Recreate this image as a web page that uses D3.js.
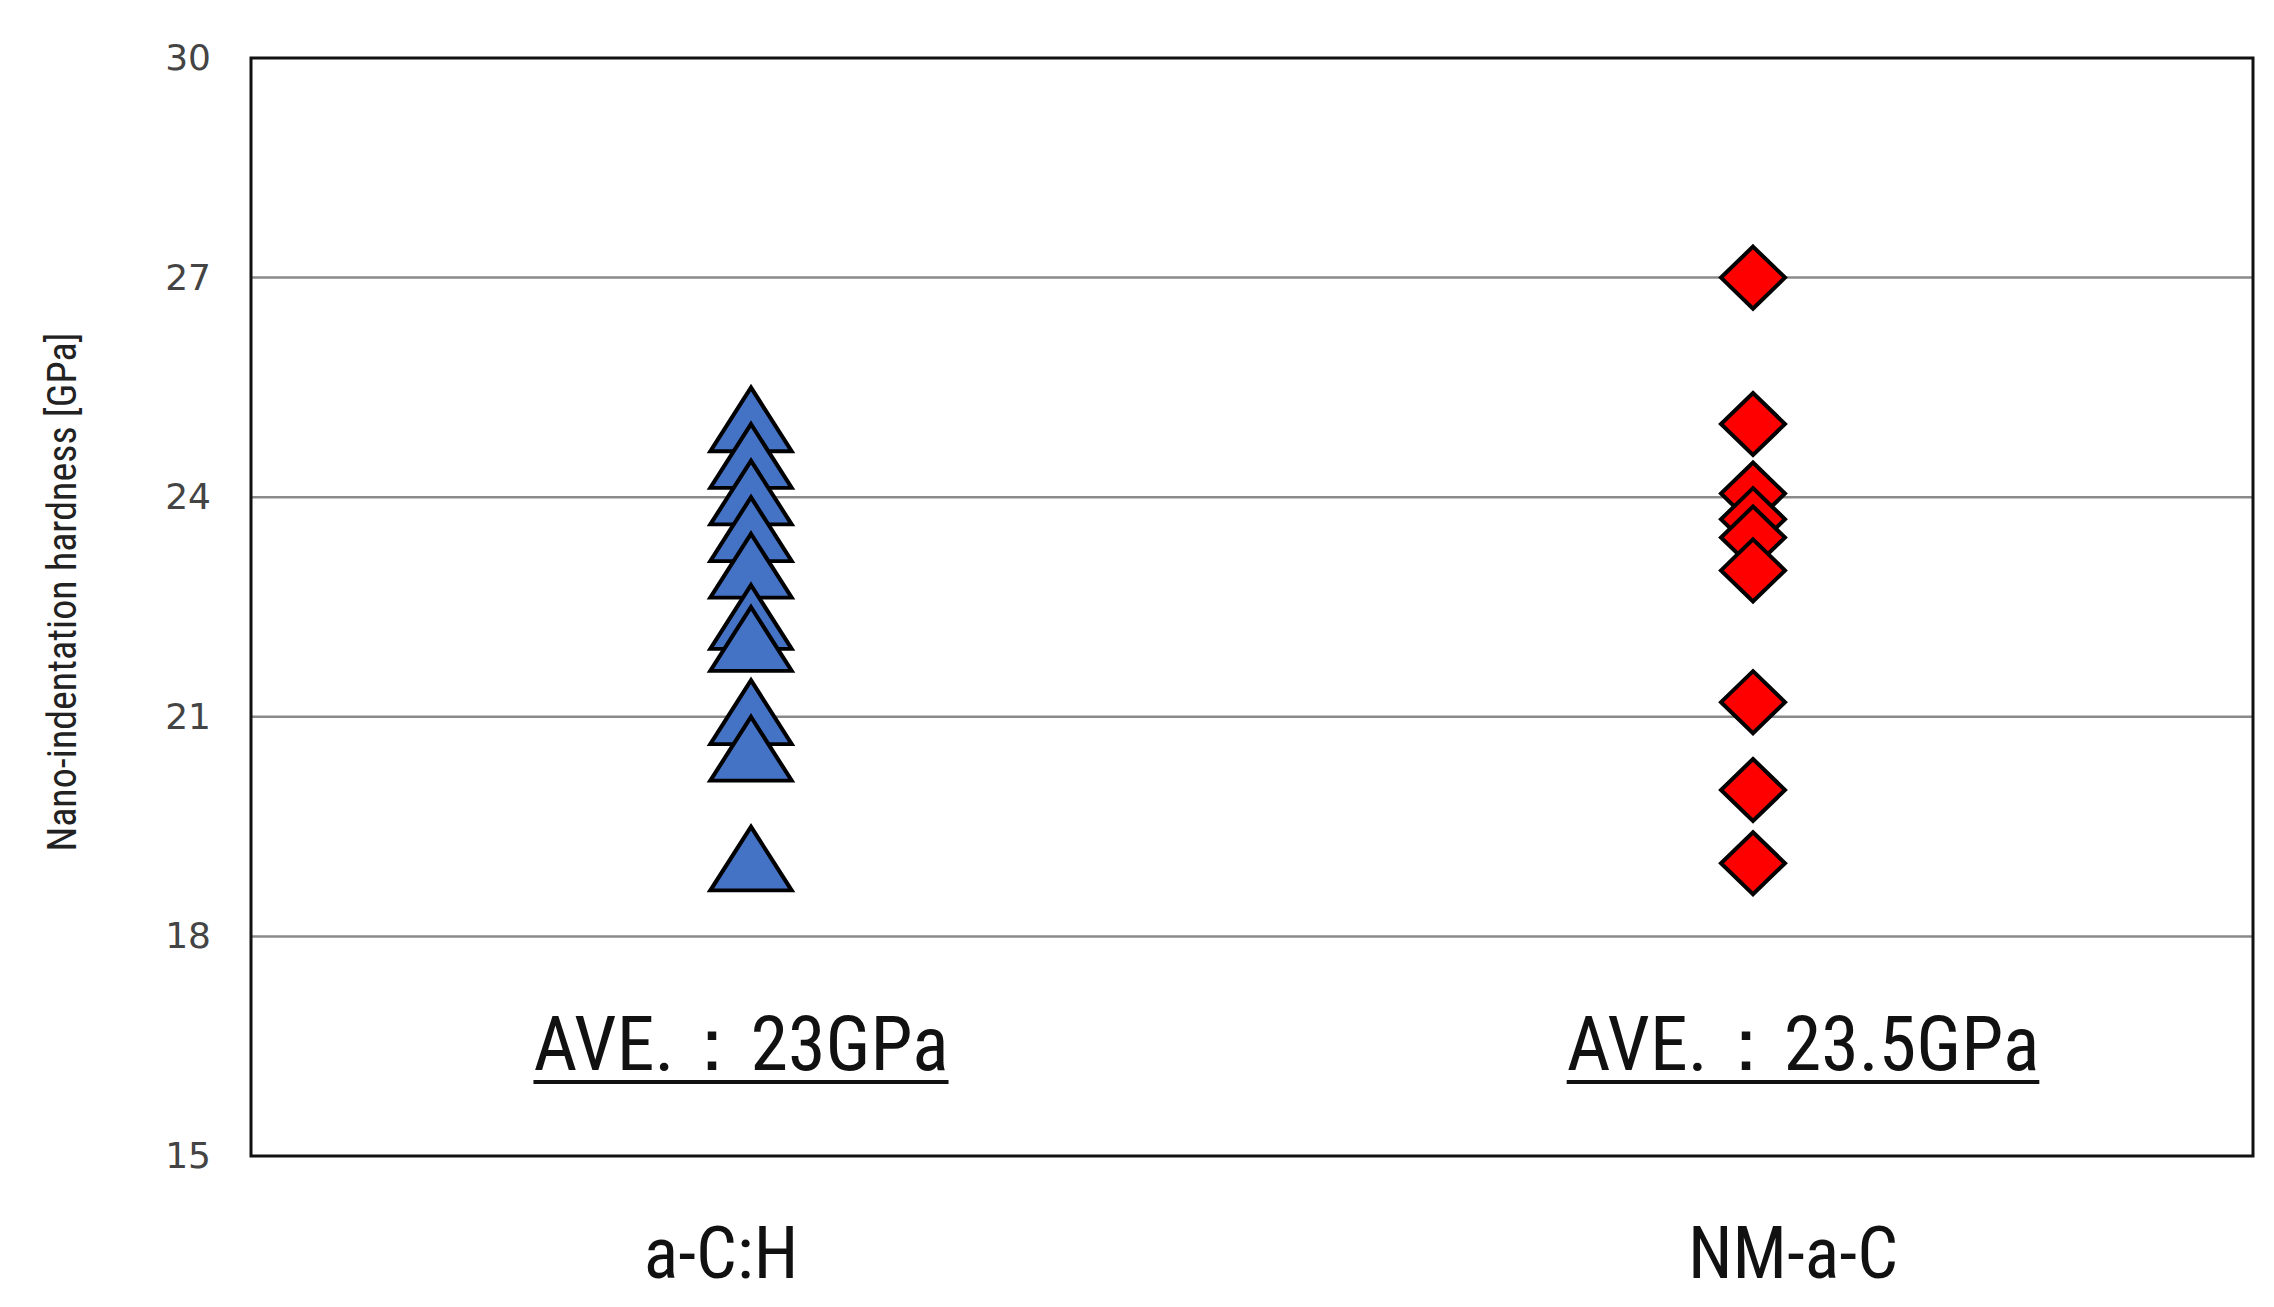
<!DOCTYPE html>
<html><head><meta charset="utf-8">
<script src="https://cdn.jsdelivr.net/npm/d3@7"></script>
<style>body{margin:0;background:#fff}</style>
</head><body>
<svg id="chart" width="2274" height="1307"></svg>
<script>
// data
var categories = ["a-C:H", "NM-a-C"]
var acH = [25.0, 24.5, 24.0, 23.5, 23.0, 22.3, 22.0, 21.0, 20.5, 19.0]
var nmaC = [27.0, 25.0, 24.05, 23.7, 23.45, 23.0, 21.2, 20.0, 19.0]
var averages = ["AVE.\uFF1A23GPa", "AVE.\uFF1A23.5GPa"]
var yTicks = [15, 18, 21, 24, 27, 30]

var narrow = "'Liberation Sans Narrow','Roboto Condensed','Open Sans',sans-serif"
var svg = d3.select("#chart")
// plot box (note: "top" is reserved on window, so use other names)
var pLeft = 251, pRight = 2253, pTop = 58, pBottom = 1156

var y = d3.scaleLinear().domain([15, 30]).range([pBottom, pTop])
var x = d3.scalePoint().domain(categories).range([751, 1753])

// gridlines
svg.append("g").selectAll("line").data(yTicks.slice(1, -1)).join("line")
        .attr("x1", pLeft).attr("x2", pRight)
        .attr("y1", d => y(d)).attr("y2", d => y(d))
        .attr("stroke", "#8a8a8a").attr("stroke-width", 2.5)

// y axis labels
var yAxis = svg.append("g").attr("transform", "translate(" + pLeft + ",0)")
        .call(d3.axisLeft(y).tickValues(yTicks).tickSize(0).tickPadding(40))
yAxis.select(".domain").remove()
yAxis.selectAll("text").attr("font-family", "'DejaVu Sans',sans-serif")
        .attr("font-size", 36).attr("fill", "#444")

// frame
svg.append("rect").attr("x", pLeft).attr("y", pTop)
        .attr("width", pRight - pLeft).attr("height", pBottom - pTop)
        .attr("fill", "none").attr("stroke", "#111").attr("stroke-width", 3)

svg.append("text").attr("transform", "translate(76," + ((pTop + pBottom) / 2 - 15) + ") rotate(-90)")
        .attr("text-anchor", "middle").attr("font-family", narrow).attr("font-size", 40)
        .attr("fill", "#222").text("Nano-indentation hardness [GPa]")

// markers
var tri = d3.symbol().type(d3.symbolTriangle).size(2600)
svg.append("g").selectAll("path").data(acH).join("path")
        .attr("d", tri)
        .attr("transform", d => "translate(" + x(categories[0]) + "," + (y(d) + 6) + ") scale(1.05,0.95)")
        .attr("fill", "#4472c4").attr("stroke", "#000").attr("stroke-width", 4)

svg.append("g").selectAll("path").data(nmaC).join("path")
        .attr("d", "M0,-31L32,0L0,31L-32,0Z")
        .attr("transform", d => "translate(" + x(categories[1]) + "," + y(d) + ")")
        .attr("fill", "#ff0000").attr("stroke", "#000").attr("stroke-width", 4)

// averages with underline
var ave = svg.append("g").selectAll("g").data(averages).join("g")
        .attr("transform", (d, i) => "translate(" + (x(categories[i]) - (i ? -50 : 10)) + ",1070)")
ave.append("text").attr("text-anchor", "middle").attr("font-family", narrow)
        .attr("font-size", 76).attr("fill", "#111").text(d => d)
ave.each(function () {
        var g = d3.select(this), b = g.select("text").node().getBBox()
        g.append("line").attr("x1", b.x).attr("x2", b.x + b.width)
                .attr("y1", 12).attr("y2", 12).attr("stroke", "#111").attr("stroke-width", 4)
})

// category labels
svg.append("g").selectAll("text").data(categories).join("text")
        .attr("x", (d, i) => x(d) + (i ? 40 : -30)).attr("y", 1278).attr("text-anchor", "middle")
        .attr("font-family", narrow).attr("font-size", 72).attr("fill", "#111").text(d => d)
</script>
</body></html>
